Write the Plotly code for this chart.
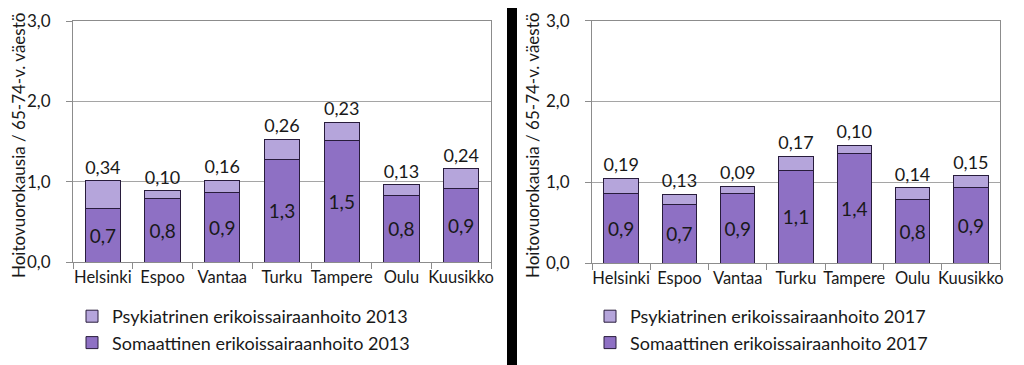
import plotly.graph_objects as go

cities = ["Helsinki", "Espoo", "Vantaa", "Turku", "Tampere", "Oulu", "Kuusikko"]
soma_2013 = [0.67, 0.79, 0.86, 1.27, 1.51, 0.83, 0.92]
psyk_2013 = [0.34, 0.10, 0.16, 0.26, 0.23, 0.13, 0.24]
soma_2017 = [0.86, 0.72, 0.86, 1.15, 1.36, 0.79, 0.93]
psyk_2017 = [0.19, 0.13, 0.09, 0.17, 0.10, 0.14, 0.15]
y_ticks = [0, 1, 2, 3]
y_title = "Hoitovuorokausia / 65-74-v. väestö"

FONT = "Lato"
C_SOMA = "rgb(142,112,196)"
C_PSYK = "rgb(181,165,219)"
C_EDGE = "rgb(40,28,60)"
TXT = "rgb(25,25,25)"

# page body adds an 8px margin; size and place the figure so that it lands
# on the 1024x365 window at the reference pixel positions
OFF = 8
W, H = 1024 - OFF, 365 - OFF


def px(x):
    return (x - OFF) / W


def py(y):
    return 1 - (y - OFF) / H


fig = go.Figure()

panels = [
    ("x", "y", "legend", soma_2013, psyk_2013, "2013"),
    ("x2", "y2", "legend2", soma_2017, psyk_2017, "2017"),
]
for xa, ya, lg, soma, psyk, yr in panels:
    fig.add_trace(go.Bar(
        x=cities, y=soma, xaxis=xa, yaxis=ya, legend=lg,
        name="Somaattinen erikoissairaanhoito " + yr,
        marker=dict(color=C_SOMA, line=dict(color=C_EDGE, width=1)),
        texttemplate="%{y:.1f}", textposition="inside", insidetextanchor="middle",
        textfont=dict(family=FONT, size=19, color=TXT),
        constraintext="none", hoverinfo="skip",
    ))
    fig.add_trace(go.Bar(
        x=cities, y=psyk, xaxis=xa, yaxis=ya, legend=lg,
        name="Psykiatrinen erikoissairaanhoito " + yr,
        marker=dict(color=C_PSYK, line=dict(color=C_EDGE, width=1)),
        texttemplate="%{y:.2f}", textposition="outside",
        textfont=dict(family=FONT, size=18, color=TXT),
        constraintext="none", cliponaxis=False, hoverinfo="skip",
    ))

axis_x = dict(
    showgrid=False, showline=True, linecolor="rgb(140,140,140)", linewidth=1,
    mirror=True, ticks="outside", tickson="boundaries", ticklen=6,
    tickcolor="rgb(140,140,140)", tickfont=dict(family=FONT, size=16.5, color=TXT),
    tickangle=0, fixedrange=True, automargin=False,
)
axis_y = dict(
    range=[0, 3], tickvals=y_ticks, tickformat=".1f",
    showgrid=True, gridcolor="rgb(165,165,165)", gridwidth=1,
    showline=True, linecolor="rgb(140,140,140)", linewidth=1, mirror=True,
    ticks="outside", ticklen=6, tickcolor="rgb(140,140,140)",
    tickfont=dict(family=FONT, size=17, color=TXT), ticklabelstandoff=12,
    zeroline=False, automargin=False, fixedrange=True,
)

legend_common = dict(
    orientation="v", traceorder="reversed", xanchor="left", yanchor="top",
    font=dict(family=FONT, size=18, color=TXT), bgcolor="rgba(0,0,0,0)",
    itemwidth=30, tracegroupgap=0,
)

title_ann = dict(text=y_title, xref="paper", yref="paper", textangle=-90,
                 showarrow=False, xanchor="center", yanchor="middle",
                 font=dict(family=FONT, size=17, color=TXT))

fig.update_layout(
    width=W, height=H,
    margin=dict(l=0, r=0, t=0, b=0),
    paper_bgcolor="white", plot_bgcolor="white",
    barmode="stack", bargap=0.41,
    separators=", ",
    showlegend=True,
    xaxis=dict(axis_x, domain=[px(73), px(491)], anchor="y"),
    yaxis=dict(axis_y, domain=[py(262), py(21)], anchor="x"),
    xaxis2=dict(axis_x, domain=[px(592), px(1000)], anchor="y2"),
    yaxis2=dict(axis_y, domain=[py(263), py(20.7)], anchor="x2"),
    legend=dict(legend_common, x=px(72), y=py(298)),
    legend2=dict(legend_common, x=px(590), y=py(298)),
    annotations=[
        dict(title_ann, x=px(19), y=py(146)),
        dict(title_ann, x=px(533), y=py(146)),
    ],
    shapes=[dict(type="rect", xref="paper", yref="paper",
                 x0=px(507), x1=px(517), y0=0, y1=1,
                 fillcolor="black", line=dict(width=0), layer="above")],
)

fig.write_html("out.html")
